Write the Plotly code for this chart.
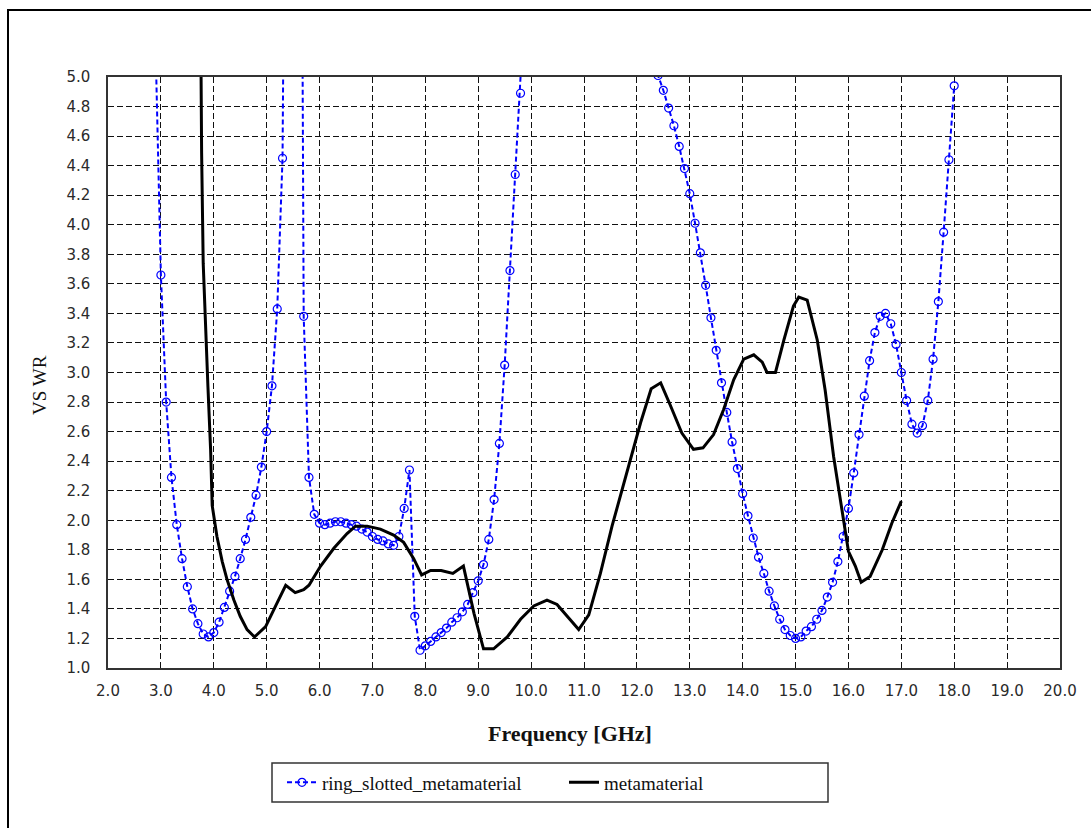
import plotly.graph_objects as go

# ring_slotted_metamaterial (blue, dashed with circle markers)
blue_freq = [2.9, 3.0, 3.1, 3.2, 3.3, 3.4, 3.5, 3.6, 3.7, 3.8, 3.9,
             4.0, 4.1, 4.2, 4.3, 4.4, 4.5, 4.6, 4.7, 4.8, 4.9,
             5.0, 5.1, 5.2, 5.3, 5.4, 5.5, 5.6, 5.7, 5.8, 5.9,
             6.0, 6.1, 6.2, 6.3, 6.4, 6.5, 6.6, 6.7, 6.8, 6.9,
             7.0, 7.1, 7.2, 7.3, 7.4, 7.5, 7.6, 7.7, 7.8, 7.9,
             8.0, 8.1, 8.2, 8.3, 8.4, 8.5, 8.6, 8.7, 8.8, 8.9,
             9.0, 9.1, 9.2, 9.3, 9.4, 9.5, 9.6, 9.7, 9.8, 9.9,
             10.0, 10.5, 11.0, 11.5, 12.0, 12.2, 12.3, 12.4,
             12.5, 12.6, 12.7, 12.8, 12.9,
             13.0, 13.1, 13.2, 13.3, 13.4, 13.5, 13.6, 13.7, 13.8, 13.9,
             14.0, 14.1, 14.2, 14.3, 14.4, 14.5, 14.6, 14.7, 14.8, 14.9,
             15.0, 15.1, 15.2, 15.3, 15.4, 15.5, 15.6, 15.7, 15.8, 15.9,
             16.0, 16.1, 16.2, 16.3, 16.4, 16.5, 16.6, 16.7, 16.8, 16.9,
             17.0, 17.1, 17.2, 17.3, 17.4, 17.5, 17.6, 17.7, 17.8, 17.9,
             18.0]
blue_vswr = [5.2, 3.66, 2.80, 2.29, 1.97, 1.74, 1.55, 1.40, 1.30, 1.23, 1.21,
             1.24, 1.31, 1.41, 1.52, 1.62, 1.74, 1.87, 2.02, 2.17, 2.36,
             2.60, 2.91, 3.43, 4.45, 7.2, 14.0, 11.5, 3.38, 2.29, 2.04,
             1.98, 1.97, 1.98, 1.99, 1.99, 1.98, 1.97, 1.96, 1.94, 1.92,
             1.89, 1.87, 1.86, 1.84, 1.83, 1.89, 2.08, 2.34, 1.35, 1.12,
             1.15, 1.18, 1.21, 1.24, 1.27, 1.31, 1.34, 1.38, 1.43, 1.51,
             1.59, 1.70, 1.87, 2.14, 2.52, 3.05, 3.69, 4.34, 4.89, 5.5,
             6.3, 8.0, 9.0, 8.0, 6.0, 5.4, 5.15, 5.01,
             4.91, 4.79, 4.67, 4.53, 4.38,
             4.21, 4.01, 3.81, 3.59, 3.37, 3.15, 2.93, 2.73, 2.53, 2.35,
             2.18, 2.03, 1.88, 1.75, 1.64, 1.52, 1.42, 1.33, 1.26, 1.22,
             1.20, 1.21, 1.25, 1.28, 1.33, 1.39, 1.48, 1.58, 1.72, 1.89,
             2.08, 2.32, 2.58, 2.84, 3.08, 3.27, 3.38, 3.40, 3.33, 3.19,
             3.00, 2.81, 2.65, 2.59, 2.64, 2.81, 3.09, 3.48, 3.95, 4.44,
             4.94]

# metamaterial (black, solid)
black_freq = [3.75, 3.77, 3.80, 3.84, 3.89, 3.94, 3.97, 4.06, 4.16, 4.25,
              4.38, 4.50, 4.63, 4.77, 4.98, 5.17, 5.36, 5.54, 5.70, 5.80,
              6.02, 6.27, 6.52, 6.68, 6.90, 7.15, 7.40, 7.59, 7.78, 7.93,
              8.10, 8.30, 8.52, 8.72, 8.92, 9.10, 9.29, 9.55, 9.80, 10.05,
              10.30, 10.49, 10.68, 10.90, 11.09, 11.31, 11.53, 11.72, 11.88, 12.07,
              12.27, 12.45, 12.63, 12.85, 13.07, 13.25, 13.45, 13.64, 13.83, 14.02,
              14.21, 14.37, 14.46, 14.62, 14.78, 14.96, 15.06, 15.22, 15.41, 15.56,
              15.72, 15.91, 16.00, 16.13, 16.24, 16.41, 16.64, 16.82, 17.00]
black_vswr = [5.5, 4.49, 3.74, 3.31, 2.90, 2.48, 2.10, 1.89, 1.72, 1.60,
              1.46, 1.35, 1.26, 1.21, 1.28, 1.42, 1.56, 1.51, 1.53, 1.56,
              1.69, 1.81, 1.91, 1.96, 1.96, 1.94, 1.90, 1.85, 1.74, 1.63,
              1.66, 1.66, 1.64, 1.69, 1.37, 1.13, 1.13, 1.21, 1.33, 1.42,
              1.46, 1.43, 1.35, 1.26, 1.36, 1.64, 1.96, 2.21, 2.41, 2.66,
              2.89, 2.93, 2.78, 2.59, 2.48, 2.49, 2.58, 2.75, 2.95, 3.09,
              3.12, 3.07, 3.00, 3.00, 3.22, 3.45, 3.51, 3.49, 3.22, 2.88,
              2.43, 2.00, 1.79, 1.69, 1.58, 1.62, 1.80, 1.98, 2.13]

series_names = ["ring_slotted_metamaterial", "metamaterial"]
x_title = "Frequency [GHz]"
y_title = "VS WR"

W, H = 1091, 828
L, R, T, B = 108, 31, 77, 160
PW, PH = W - L - R, H - T - B


def px(xp):
    return (xp - L) / PW


def py(yp):
    return (H - B - yp) / PH


fig = go.Figure()
fig.add_trace(go.Scatter(
    x=blue_freq, y=blue_vswr, name=series_names[0], mode="lines+markers",
    line=dict(color="#0000FF", width=2, dash="5px,3px"),
    marker=dict(symbol="circle-open", size=8, color="#0000FF", line=dict(width=1.2)),
))
fig.add_trace(go.Scatter(
    x=black_freq, y=black_vswr, name=series_names[1], mode="lines",
    line=dict(color="#000000", width=3),
))

tickfont = dict(family="DejaVu Sans", size=15, color="#2a2a2a")
fig.update_xaxes(
    range=[2, 20], dtick=1, tick0=2, tickformat=".1f",
    showgrid=True, gridcolor="#111111", gridwidth=1, griddash="6px,3px",
    showline=True, linecolor="#333333", linewidth=1.5, mirror=True,
    ticks="outside", ticklen=8, tickcolor="rgba(0,0,0,0)",
    tickfont=tickfont, zeroline=False,
)
fig.update_yaxes(
    range=[1, 5], dtick=0.2, tick0=1, tickformat=".1f",
    showgrid=True, gridcolor="#111111", gridwidth=1, griddash="6px,3px",
    showline=True, linecolor="#333333", linewidth=1.5, mirror=True,
    ticks="outside", ticklen=13, tickcolor="rgba(0,0,0,0)",
    tickfont=tickfont, zeroline=False,
)

fig.update_layout(
    width=W, height=H,
    margin=dict(l=L, r=R, t=T, b=B, pad=0),
    paper_bgcolor="white", plot_bgcolor="white",
    showlegend=True,
    legend=dict(
        orientation="h", x=px(282), xanchor="left", y=py(782.5), yanchor="middle",
        font=dict(family="Liberation Serif", size=19, color="#111111"),
        bgcolor="rgba(0,0,0,0)", borderwidth=0,
        entrywidth=237, itemsizing="trace",
    ),
    shapes=[
        dict(type="rect", xref="paper", yref="paper",
             x0=px(8), x1=px(1096), y0=py(834), y1=py(10),
             line=dict(color="#000000", width=2), fillcolor="rgba(0,0,0,0)", layer="below"),
        dict(type="rect", xref="paper", yref="paper",
             x0=px(272), x1=px(828), y0=py(802), y1=py(763),
             line=dict(color="#333333", width=1.5), fillcolor="rgba(0,0,0,0)"),
    ],
    annotations=[
        dict(text=x_title, xref="paper", yref="paper", x=px(570), y=py(733),
             xanchor="center", yanchor="middle", showarrow=False,
             font=dict(family="Liberation Serif", size=22, color="#111111", weight="bold")),
        dict(text=y_title, xref="paper", yref="paper", x=px(40), y=py(385),
             xanchor="center", yanchor="middle", showarrow=False, textangle=-90,
             font=dict(family="Liberation Serif", size=19, color="#111111")),
    ],
)

fig.write_html("out.html")
